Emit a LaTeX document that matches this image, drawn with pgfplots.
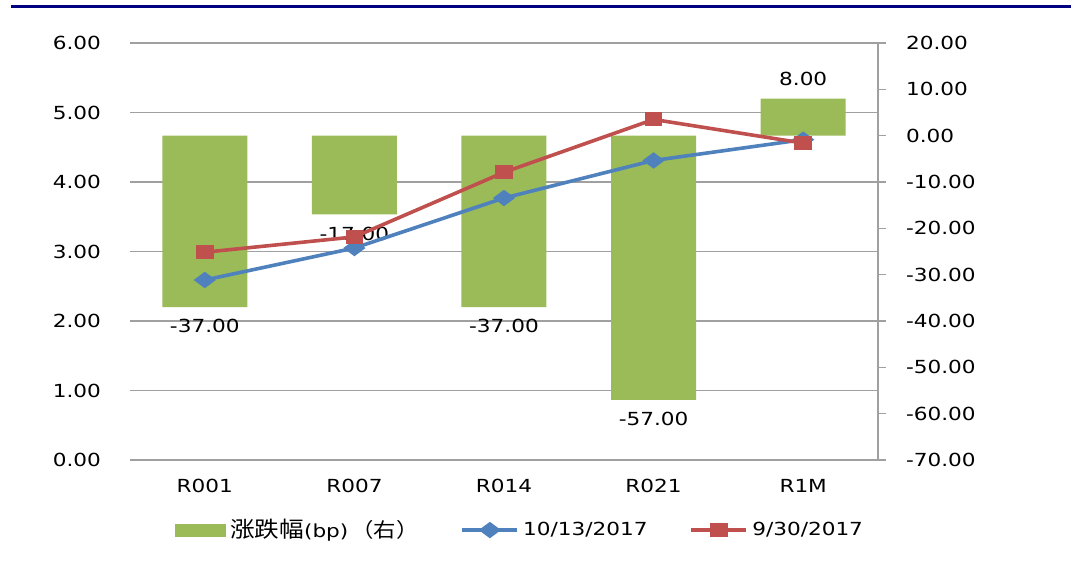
\documentclass[border=0pt]{standalone}
\usepackage{pgfplots}
\pgfplotsset{compat=1.18}
\usepackage{fontspec}
\setmainfont{DejaVu Sans}[FakeStretch=1.2]
\newfontfamily\cjk{Noto Sans CJK SC}[FakeStretch=1.12]

\definecolor{barg}{HTML}{9BBB59}
\definecolor{lblue}{HTML}{4F81BD}
\definecolor{lred}{HTML}{C0504D}
\definecolor{axgray}{HTML}{A0A0A0}
\definecolor{navy}{HTML}{000080}

\pgfplotsset{
  base/.style={
    scale only axis, width=374pt, height=208.5pt,
    xmin=-0.5, xmax=4.5, xtick={0,1,2,3,4},
    tick label style={font=\fontsize{9pt}{11pt}\selectfont},
    /pgf/number format/assume math mode=true,
    yticklabel style={/pgf/number format/fixed, /pgf/number format/fixed zerofill,
      /pgf/number format/precision=2},
  },
}

\begin{document}
\begin{tikzpicture}
\path[use as bounding box] (-65pt,-55pt) rectangle (473pt,230pt);
\draw[navy, line width=1.6pt] (-59.5pt,226.6pt) -- (470.5pt,226.6pt);

% left scale: grid, labels, categories
\begin{axis}[base,
    ymin=0, ymax=6, ytick={0,1,...,6},
    axis y line*=left, axis x line*=bottom,
    y axis line style={draw=none},
    x axis line style={axgray, line width=0.8pt, -},
    xtick style={draw=none}, ytick style={draw=none},
    ymajorgrids, grid style={axgray, line width=0.6pt},
    xticklabels={R001,R007,R014,R021,R1M},
    xticklabel style={yshift=-6pt},
    yticklabel style={xshift=-11pt},
]
\end{axis}

% right scale: bars
\begin{axis}[base,
    ymin=-70, ymax=20, ytick={-70,-60,...,20},
    axis y line*=right, axis x line=none,
    y axis line style={axgray, line width=0.8pt, -},
    ytick style={axgray, line width=0.8pt},
    tick align=outside, major tick length=4pt,
    yticklabel style={anchor=west, xshift=6.5pt},
    ybar, bar width=42.5pt,
    nodes near coords,
    nodes near coords style={font=\fontsize{9pt}{11pt}\selectfont, inner ysep=6pt,
      /pgf/number format/fixed, /pgf/number format/fixed zerofill,
      /pgf/number format/precision=2, /pgf/number format/assume math mode=true},
]
\addplot[fill=barg, draw=none] coordinates {(0,-37) (1,-17) (2,-37) (3,-57) (4,8)};
\end{axis}

% left scale: lines and legend
\begin{axis}[base,
    ymin=0, ymax=6, hide axis,
    legend columns=3,
    legend style={draw=none, fill=none, at={(0.523,-0.168)}, anchor=center,
      font=\fontsize{9pt}{11pt}\selectfont,
      /tikz/every even column/.append style={column sep=19pt}},
]
\addlegendimage{legend image code/.code={\fill[barg] (0pt,-3pt) rectangle (25pt,3pt);}}
\addlegendentry{{\fontsize{11pt}{13pt}\selectfont\cjk 涨跌幅}{\fontsize{9pt}{11pt}\selectfont(bp)}\,{\fontsize{10pt}{12pt}\selectfont\cjk （右）}}
\addplot[lblue, line width=1.8pt, mark=diamond*, mark size=3pt, mark options={xscale=1.8},
  legend image code/.code={\draw[mark repeat=2, mark phase=2] plot coordinates {(0pt,0pt) (13.75pt,0pt) (27.5pt,0pt)};}]
  coordinates {(0,2.59) (1,3.05) (2,3.77) (3,4.31) (4,4.61)};
\addlegendentry{10/13/2017}
\addplot[lred, line width=1.8pt, mark=square*, mark size=2.6pt, mark options={xscale=1.35},
  legend image code/.code={\draw[mark repeat=2, mark phase=2] plot coordinates {(0pt,0pt) (13.75pt,0pt) (27.5pt,0pt)};}]
  coordinates {(0,2.99) (1,3.21) (2,4.14) (3,4.90) (4,4.56)};
\addlegendentry{9/30/2017}
\end{axis}
\end{tikzpicture}
\end{document}
